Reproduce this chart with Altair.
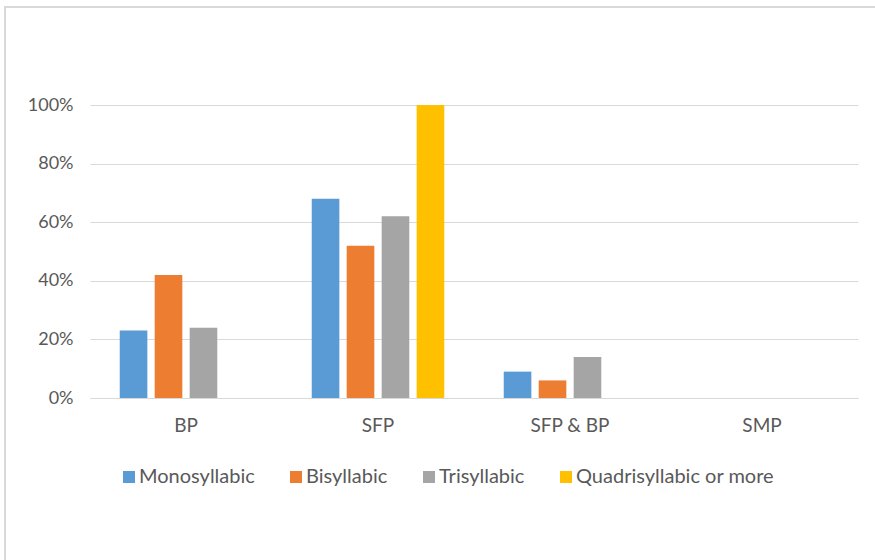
import altair as alt
import pandas as pd

categories = ["BP", "SFP", "SFP & BP", "SMP"]
series = ["Monosyllabic", "Bisyllabic", "Trisyllabic", "Quadrisyllabic or more"]
colors = ["#5B9BD5", "#ED7D31", "#A5A5A5", "#FFC000"]

monosyllabic = [0.23, 0.68, 0.09, 0.0]
bisyllabic = [0.42, 0.52, 0.06, 0.0]
trisyllabic = [0.24, 0.62, 0.14, 0.0]
quadrisyllabic = [0.0, 1.00, 0.0, 0.0]

rows = []
for s, vals in zip(series, [monosyllabic, bisyllabic, trisyllabic, quadrisyllabic]):
    for c, v in zip(categories, vals):
        rows.append({"category": c, "series": s, "value": v})
df = pd.DataFrame(rows)

FONT = "Lato"
TXT = "#595959"

bars = alt.Chart(df).mark_bar().encode(
    x=alt.X("category:N", sort=categories, title=None,
            scale=alt.Scale(paddingInner=0, paddingOuter=0),
            axis=alt.Axis(labelAngle=0, ticks=False, domain=True, domainColor="#d9d9d9",
                          labelFontSize=19, labelColor=TXT, labelFont=FONT, labelPadding=18)),
    xOffset=alt.XOffset("series:N", sort=series,
                        scale=alt.Scale(paddingInner=0.21, paddingOuter=0.85)),
    y=alt.Y("value:Q", title=None,
            scale=alt.Scale(domain=[0, 1]),
            axis=alt.Axis(format=".0%", values=[0, 0.2, 0.4, 0.6, 0.8, 1.0], domain=False, ticks=False,
                          gridColor="#d9d9d9", labelFontSize=18, labelColor=TXT, labelFont=FONT,
                          labelPadding=17)),
    color=alt.Color("series:N", sort=series,
                    scale=alt.Scale(domain=series, range=colors),
                    legend=alt.Legend(title=None, orient="none", direction="horizontal",
                                      legendX=29, legendY=362, symbolType="square", symbolSize=144,
                                      symbolStrokeWidth=0, labelFontSize=20, labelColor=TXT,
                                      labelFont=FONT, columnPadding=31, symbolOffset=0,
                                      labelOffset=0, labelLimit=0)),
)

frame = alt.Chart(pd.DataFrame({"k": [0]})).mark_rect(
    fill=None, stroke="#d9d9d9", strokeWidth=2, clip=False
).encode(
    x=alt.value(-85), x2=alt.value(800), y=alt.value(-98), y2=alt.value(480)
)

chart = alt.layer(frame, bars).properties(
    width=768, height=293,
    autosize=alt.AutoSizeParams(type="none"),
    padding={"left": 90, "top": 105, "right": 17, "bottom": 162},
    background="white",
).configure_view(stroke=None)

chart.save("out.html", embed_options={"renderer": "svg", "actions": False})
